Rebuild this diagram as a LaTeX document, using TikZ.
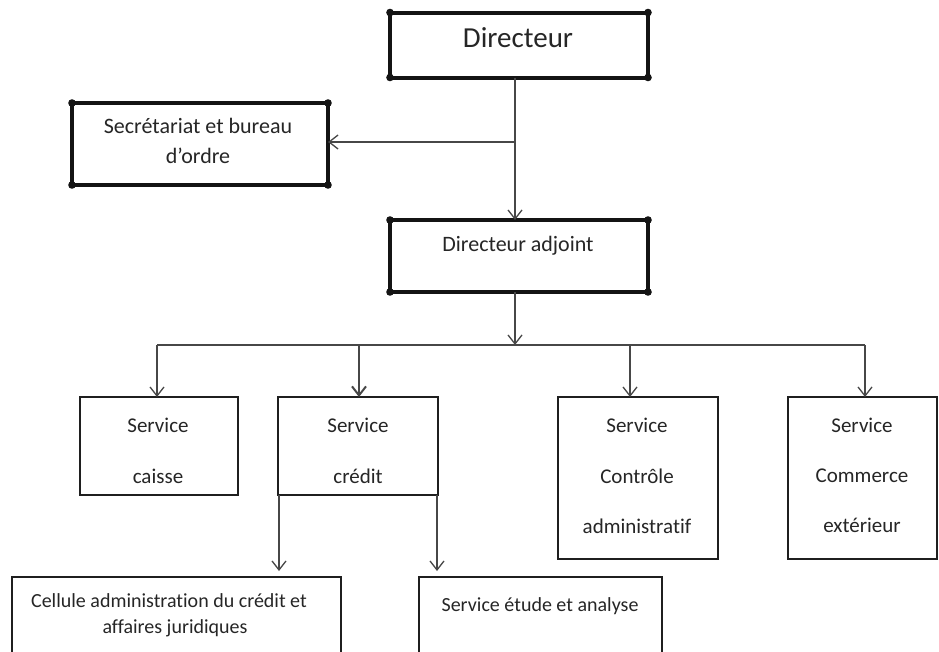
\documentclass[tikz,border=0pt]{standalone}
\usepackage{fontspec}
\setmainfont{Carlito}[Ligatures={NoCommon}]
\usetikzlibrary{arrows.meta}
\begin{document}
\begin{tikzpicture}[x=1pt,y=-1pt,
  thickbox/.style={draw=black!92, line width=4pt, inner sep=0pt, outer sep=0pt},
  thinbox/.style={draw=black!88, line width=2pt, inner sep=0pt, outer sep=0pt},
  conn/.style={draw=black!72, line width=1.3pt},
  arr/.style={conn, -{Straight Barb[length=9pt,width=14pt]}},
  lbl/.style={text=black!85, inner sep=0pt, anchor=base},
  fbig/.style={font=\fontsize{29}{34}\selectfont},
  fmid/.style={font=\fontsize{22}{26}\selectfont},
  fsvc/.style={font=\fontsize{21}{25}\selectfont},
  fsml/.style={font=\fontsize{20}{24}\selectfont},
]
\clip (0,0) rectangle (939,651);
\fill[white] (0,0) rectangle (939,651);

% boxes
\node[thickbox, minimum width=258pt, minimum height=65pt] (dir) at (519,45) {};
\node[thickbox, minimum width=256pt, minimum height=82pt] (secr) at (200,144) {};
\node[thickbox, minimum width=258pt, minimum height=72pt] (adj) at (519,256) {};
\node[thinbox, minimum width=158pt, minimum height=98pt] (caisse) at (159,446) {};
\node[thinbox, minimum width=160pt, minimum height=98pt] (credit) at (358,446) {};
\node[thinbox, minimum width=160pt, minimum height=162pt] (ctrl) at (638,478) {};
\node[thinbox, minimum width=149pt, minimum height=162pt] (comm) at (862.5,478) {};
\node[thinbox, minimum width=329pt, minimum height=100pt] (cel) at (176.5,627) {};
\node[thinbox, minimum width=243pt, minimum height=100pt] (etude) at (540.5,627) {};

% corner dots
\foreach \n in {dir,secr,adj}
  \foreach \a in {north west,north east,south west,south east}
    \fill[black!92] (\n.\a) circle (3.8pt);

% labels
\node[lbl, fbig] (tdir) at (518,47) {Directeur};
\node[lbl, fmid] (tsecr1) at (198,133) {Secrétariat et bureau};
\node[lbl, fmid] (tsecr2) at (198,163) {d’ordre};
\node[lbl, fmid] (tadj) at (518,251) {Directeur adjoint};
\node[lbl, fsvc] (tca1) at (158,432) {Service};
\node[lbl, fsvc] (tca2) at (158,483) {caisse};
\node[lbl, fsvc] (tcr1) at (358,432) {Service};
\node[lbl, fsvc] (tcr2) at (358,483) {crédit};
\node[lbl, fsvc] (tct1) at (637,432) {Service};
\node[lbl, fsvc] (tct2) at (637,483) {Contrôle};
\node[lbl, fsvc] (tct3) at (637,533) {administratif};
\node[lbl, fsvc] (tco1) at (862,432) {Service};
\node[lbl, fsvc] (tco2) at (862,482) {Commerce};
\node[lbl, fsvc] (tco3) at (862,532) {extérieur};
\node[lbl, fsml] (tcel1) at (169,607) {Cellule administration du crédit et};
\node[lbl, fsml] (tcel2) at (175,633) {affaires juridiques};
\node[lbl, fsml] (tetu) at (540,611) {Service étude et analyse};

% connectors
\coordinate (j1) at (515,142);
\draw[arr] (dir.south -| j1) -- (adj.north -| j1);
\draw[arr] (j1) -- (secr.east |- j1);

\coordinate (bus) at (515,345);
\coordinate (b1) at (157,345);
\coordinate (b2) at (359,345);
\coordinate (b3) at (630,345);
\coordinate (b4) at (865,345);
\draw[arr] (adj.south -| bus) -- (bus);
\draw[conn] (b1) -- (b4);
\draw[arr] (b1) -- (caisse.north -| b1);
\draw[arr, line width=2pt] (b2) -- (credit.north -| b2);
\draw[arr] (b3) -- (ctrl.north -| b3);
\draw[arr] (b4) -- (comm.north -| b4);

\coordinate (c1) at (279,495);
\coordinate (c2) at (437,495);
\draw[arr, shorten >=6pt] (c1) -- (cel.north -| c1);
\draw[arr, shorten >=6pt] (c2) -- (etude.north -| c2);
\end{tikzpicture}
\end{document}
